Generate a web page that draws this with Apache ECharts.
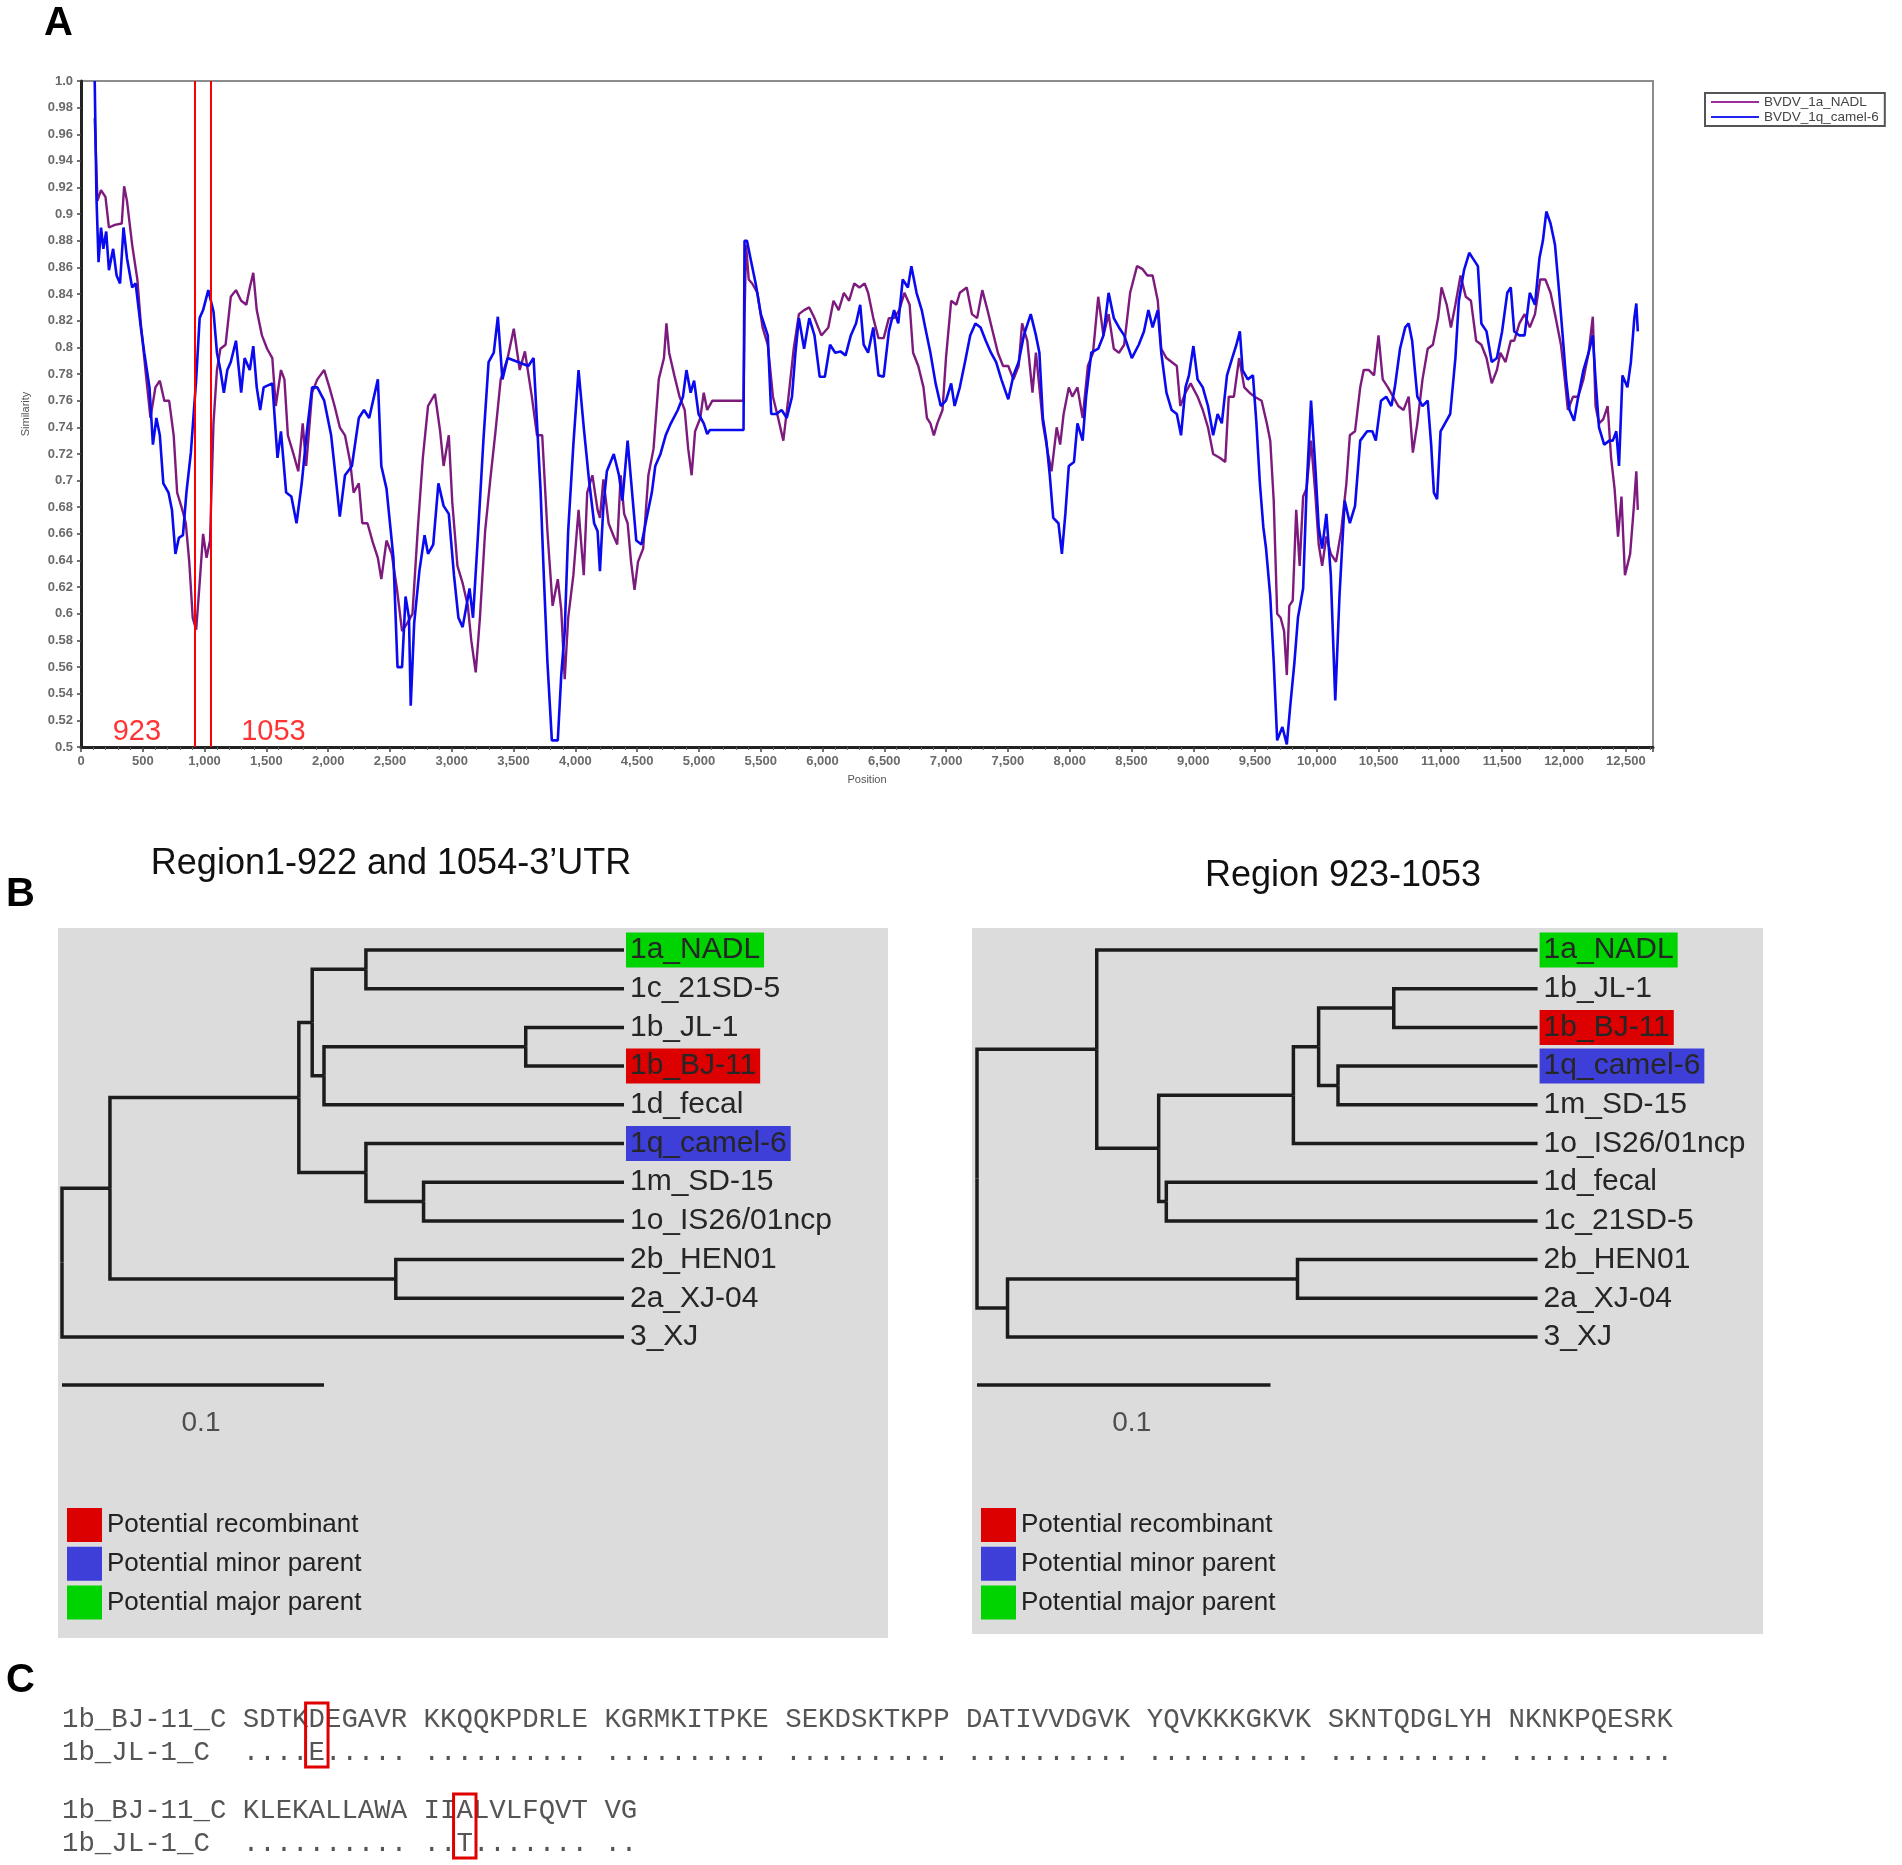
<!DOCTYPE html>
<html>
<head>
<meta charset="utf-8">
<script src="https://cdn.jsdelivr.net/npm/echarts@6/dist/echarts.min.js"></script>
<style>
html,body{margin:0;padding:0;background:#fff;}
#c{width:1902px;height:1865px;}
</style>
</head>
<body>
<div id="c"></div>
<script>
// ---------------- Panel A data: similarity plot ----------------
const seriesNames = ['BVDV_1a_NADL', 'BVDV_1q_camel-6'];
const breakpoints = [923, 1053];
const xTickStep = 500;
const yTickStep = 0.02;

const nadlSimilarity = [
[111,0.972],[133,0.910],[162,0.918],[198,0.913],[226,0.890],[274,0.892],[330,0.893],[349,0.921],[372,0.910],[414,0.877],[456,0.851],[484,0.818],[526,0.779],[562,0.747],[602,0.770],[638,0.775],[674,0.760],[713,0.760],[750,0.734],[778,0.691],[820,0.678],[848,0.668],[876,0.639],[904,0.597],[932,0.588],[960,0.623],[988,0.660],[1016,0.642],[1044,0.655],[1072,0.743],[1100,0.783],[1128,0.799],[1170,0.802],[1212,0.838],[1254,0.843],[1296,0.835],[1338,0.832],[1366,0.845],[1394,0.856],[1422,0.828],[1464,0.809],[1506,0.799],[1548,0.792],[1576,0.756],[1618,0.783],[1646,0.776],[1674,0.734],[1716,0.721],[1758,0.707],[1794,0.743],[1822,0.711],[1870,0.766],[1912,0.776],[1968,0.783],[2010,0.770],[2052,0.756],[2094,0.740],[2136,0.734],[2178,0.714],[2206,0.691],[2248,0.698],[2276,0.668],[2318,0.668],[2360,0.654],[2402,0.642],[2430,0.626],[2472,0.655],[2514,0.645],[2556,0.619],[2598,0.587],[2640,0.593],[2682,0.600],[2724,0.662],[2766,0.717],[2808,0.756],[2864,0.765],[2906,0.737],[2934,0.711],[2976,0.734],[3004,0.684],[3046,0.636],[3088,0.623],[3130,0.606],[3158,0.580],[3194,0.556],[3228,0.597],[3270,0.662],[3312,0.701],[3354,0.737],[3396,0.776],[3452,0.792],[3502,0.814],[3550,0.783],[3592,0.797],[3648,0.763],[3690,0.734],[3732,0.734],[3774,0.662],[3816,0.606],[3858,0.626],[3886,0.603],[3914,0.551],[3942,0.597],[3984,0.629],[4026,0.678],[4068,0.629],[4096,0.691],[4138,0.704],[4180,0.678],
[4199,0.672],[4227,0.701],[4269,0.668],[4311,0.658],[4339,0.652],[4367,0.704],[4395,0.675],[4423,0.668],[4451,0.639],[4479,0.618],[4507,0.639],[4549,0.649],[4591,0.704],[4633,0.724],[4675,0.776],[4717,0.792],[4737,0.818],[4759,0.796],[4801,0.779],[4843,0.763],[4885,0.753],[4913,0.724],[4941,0.704],[4969,0.737],[5011,0.747],[5039,0.766],[5067,0.753],[5109,0.760],[5361,0.760],[5369,0.822],[5381,0.877],[5403,0.851],[5431,0.848],[5473,0.841],[5515,0.815],[5557,0.802],[5599,0.763],[5641,0.747],[5683,0.730],[5725,0.763],[5767,0.799],[5809,0.825],[5851,0.828],[5893,0.830],[5935,0.822],[5991,0.809],[6047,0.815],[6089,0.835],[6131,0.828],[6173,0.841],[6215,0.835],[6257,0.848],[6299,0.845],[6341,0.848],[6369,0.841],[6411,0.822],[6453,0.807],[6495,0.807],[6537,0.822],[6579,0.822],[6621,0.828],[6663,0.841],[6705,0.832],[6733,0.796],[6775,0.786],[6817,0.770],[6845,0.747],[6873,0.743],[6901,0.734],[6929,0.743],[6971,0.753],[6999,0.792],[7041,0.835],[7083,0.832],[7111,0.841],[7167,0.845],[7209,0.825],[7251,0.822],[7293,0.843],[7335,0.828],[7377,0.812],[7419,0.796],[7461,0.786],[7503,0.786],[7545,0.776],[7587,0.786],[7615,0.818],[7657,0.805],[7699,0.766],[7727,0.796],[7755,0.770],[7783,0.743],[7825,0.720],[7853,0.707],[7895,0.740],[7923,0.727],[7951,0.750],[7993,0.770],[8021,0.763],[8063,0.770],[8105,0.747],[8147,0.786],[8189,0.796],[8231,0.838],[8273,0.809],[8315,0.825],[8357,0.799],[8399,0.796],[8441,0.802],
[8489,0.841],[8545,0.861],[8587,0.859],[8629,0.854],[8671,0.854],[8713,0.835],[8741,0.799],[8783,0.792],[8825,0.789],[8867,0.786],[8895,0.756],[8937,0.766],[8979,0.773],[9035,0.763],[9077,0.753],[9119,0.740],[9161,0.720],[9217,0.717],[9259,0.714],[9287,0.763],[9329,0.763],[9371,0.792],[9413,0.770],[9455,0.766],[9497,0.763],[9553,0.760],[9595,0.743],[9623,0.730],[9651,0.685],[9679,0.600],[9707,0.597],[9735,0.587],[9757,0.554],[9777,0.606],[9805,0.610],[9833,0.678],[9861,0.636],[9889,0.688],[9917,0.694],[9953,0.730],[9987,0.691],[10015,0.652],[10043,0.636],[10077,0.658],[10113,0.645],[10155,0.639],[10197,0.662],[10239,0.698],[10267,0.734],[10309,0.737],[10351,0.770],[10379,0.783],[10421,0.783],[10463,0.779],[10499,0.809],[10533,0.776],[10575,0.770],[10617,0.763],[10659,0.756],[10701,0.753],[10743,0.763],[10777,0.721],[10813,0.743],[10855,0.776],[10897,0.799],[10939,0.802],[10981,0.822],[11009,0.845],[11051,0.832],[11085,0.815],[11121,0.832],[11163,0.854],[11205,0.838],[11247,0.835],[11289,0.805],[11331,0.802],[11373,0.792],[11415,0.773],[11457,0.783],[11485,0.796],[11527,0.789],[11569,0.805],[11597,0.805],[11639,0.818],[11681,0.825],[11723,0.815],[11765,0.825],[11807,0.851],[11849,0.851],[11891,0.841],[11933,0.822],[11975,0.802],[12003,0.779],[12031,0.753],[12073,0.763],[12115,0.763],[12157,0.776],[12199,0.796],[12233,0.823],[12255,0.756],[12283,0.743],[12317,0.746],[12353,0.756],[12381,0.717],[12409,0.694],[12437,0.658],[12465,0.688],[12493,0.629],[12535,0.645],[12563,0.678],[12585,0.707],[12597,0.678]
];

const camelSimilarity = [
[111,1.0],[125,0.913],[142,0.864],[162,0.890],[181,0.874],[204,0.887],[226,0.858],[260,0.874],[288,0.854],[316,0.848],[344,0.890],[372,0.867],[414,0.845],[442,0.848],[484,0.815],[512,0.796],[554,0.770],[582,0.727],[610,0.747],[638,0.734],[666,0.698],[708,0.691],[736,0.678],[764,0.645],[792,0.657],[825,0.659],[853,0.691],[889,0.721],[932,0.776],[960,0.822],[988,0.828],[1030,0.843],[1072,0.827],[1100,0.796],[1128,0.783],[1156,0.766],[1184,0.783],[1212,0.789],[1254,0.805],[1296,0.766],[1324,0.792],[1366,0.783],[1394,0.801],[1422,0.770],[1450,0.753],[1478,0.770],[1548,0.773],[1590,0.717],[1618,0.737],[1660,0.691],[1702,0.688],[1744,0.668],[1786,0.698],[1828,0.737],[1870,0.770],[1912,0.770],[1968,0.760],[2024,0.734],[2066,0.698],[2094,0.673],[2136,0.704],[2192,0.711],[2248,0.747],[2290,0.753],[2332,0.747],[2402,0.776],[2430,0.711],[2472,0.694],[2500,0.668],[2528,0.642],[2561,0.560],[2598,0.560],[2626,0.613],[2654,0.597],[2668,0.531],[2696,0.593],[2738,0.632],[2780,0.659],[2808,0.645],[2850,0.652],[2892,0.698],[2934,0.681],[2976,0.675],[3018,0.629],[3054,0.597],[3088,0.590],[3144,0.619],[3172,0.597],[3214,0.662],[3256,0.730],[3298,0.789],[3340,0.796],[3373,0.823],[3410,0.776],[3452,0.792],[3536,0.789],[3620,0.786],[3662,0.792],[3690,0.743],[3718,0.694],[3746,0.626],[3774,0.564],[3810,0.505],[3858,0.505],[3886,0.554],[3914,0.587],[3942,0.662],[3984,0.727],[4026,0.783],[4068,0.740],[4110,0.701],[4152,0.668],[4180,0.662],
[4199,0.632],[4227,0.681],[4255,0.707],[4311,0.720],[4353,0.704],[4381,0.685],[4423,0.730],[4465,0.685],[4493,0.655],[4535,0.652],[4577,0.672],[4619,0.691],[4647,0.711],[4689,0.720],[4731,0.734],[4773,0.743],[4829,0.753],[4871,0.763],[4899,0.783],[4933,0.766],[4961,0.775],[4997,0.750],[5039,0.743],[5067,0.735],[5089,0.738],[5361,0.738],[5369,0.880],[5389,0.880],[5417,0.867],[5459,0.848],[5501,0.825],[5557,0.809],[5585,0.750],[5627,0.750],[5669,0.753],[5711,0.747],[5753,0.763],[5781,0.796],[5809,0.822],[5851,0.799],[5893,0.822],[5935,0.809],[5977,0.778],[6019,0.778],[6061,0.802],[6103,0.796],[6145,0.797],[6187,0.794],[6229,0.809],[6271,0.818],[6305,0.832],[6333,0.802],[6369,0.796],[6411,0.815],[6453,0.779],[6495,0.778],[6537,0.812],[6579,0.828],[6613,0.818],[6649,0.851],[6691,0.845],[6719,0.861],[6761,0.841],[6803,0.828],[6831,0.815],[6873,0.796],[6915,0.773],[6957,0.756],[6999,0.760],[7041,0.773],[7069,0.756],[7111,0.770],[7153,0.789],[7195,0.809],[7237,0.818],[7279,0.815],[7321,0.805],[7363,0.796],[7405,0.789],[7447,0.776],[7503,0.761],[7545,0.779],[7587,0.789],[7629,0.809],[7685,0.825],[7727,0.809],[7755,0.796],[7783,0.747],[7811,0.730],[7839,0.704],[7867,0.672],[7909,0.668],[7937,0.645],[7965,0.675],[7993,0.711],[8035,0.714],[8063,0.743],[8105,0.730],[8133,0.763],[8175,0.796],[8231,0.799],[8273,0.809],[8315,0.841],[8357,0.822],[8399,0.815],[8441,0.809],
[8503,0.792],[8559,0.802],[8601,0.812],[8637,0.828],[8671,0.815],[8713,0.828],[8741,0.796],[8783,0.766],[8825,0.753],[8867,0.750],[8901,0.734],[8937,0.770],[8965,0.779],[9001,0.801],[9035,0.776],[9077,0.770],[9119,0.756],[9161,0.734],[9197,0.750],[9231,0.743],[9273,0.779],[9315,0.792],[9349,0.802],[9377,0.812],[9399,0.783],[9441,0.776],[9483,0.779],[9511,0.743],[9539,0.698],[9567,0.665],[9589,0.649],[9623,0.613],[9651,0.564],[9679,0.505],[9721,0.515],[9757,0.502],[9785,0.531],[9819,0.564],[9847,0.597],[9889,0.619],[9917,0.694],[9953,0.760],[9987,0.711],[10015,0.665],[10043,0.649],[10077,0.675],[10113,0.629],[10149,0.535],[10183,0.613],[10225,0.685],[10267,0.668],[10309,0.681],[10351,0.730],[10407,0.737],[10449,0.737],[10477,0.730],[10519,0.760],[10561,0.763],[10603,0.756],[10631,0.770],[10673,0.799],[10715,0.815],[10743,0.818],[10771,0.805],[10813,0.763],[10855,0.756],[10897,0.760],[10925,0.727],[10947,0.691],[10973,0.686],[11001,0.737],[11037,0.743],[11079,0.750],[11121,0.792],[11149,0.835],[11191,0.858],[11233,0.871],[11261,0.867],[11303,0.861],[11331,0.818],[11373,0.812],[11415,0.789],[11457,0.792],[11499,0.812],[11541,0.841],[11569,0.845],[11597,0.812],[11639,0.809],[11681,0.809],[11723,0.841],[11765,0.832],[11801,0.867],[11829,0.880],[11857,0.902],[11891,0.893],[11927,0.877],[11961,0.841],[11989,0.809],[12017,0.776],[12045,0.753],[12081,0.745],[12115,0.763],[12157,0.783],[12199,0.796],[12233,0.809],[12255,0.776],[12283,0.740],[12325,0.727],[12367,0.730],[12395,0.730],[12423,0.737],[12445,0.711],[12473,0.779],[12513,0.770],[12541,0.789],[12569,0.822],[12585,0.833],[12597,0.812]
];

// ---------------- Panel B data: trees ----------------
const leftLeaves = ['1a_NADL','1c_21SD-5','1b_JL-1','1b_BJ-11','1d_fecal','1q_camel-6','1m_SD-15','1o_IS26/01ncp','2b_HEN01','2a_XJ-04','3_XJ'];
const leftClades = [ // [node, children, distance from root]
  ['AC', ['1a_NADL','1c_21SD-5'], 0.116],
  ['JB', ['1b_JL-1','1b_BJ-11'], 0.177],
  ['JBF', ['JB','1d_fecal'], 0.100],
  ['Na', ['AC','JBF'], 0.0955],
  ['MO', ['1m_SD-15','1o_IS26/01ncp'], 0.138],
  ['CG', ['1q_camel-6','MO'], 0.116],
  ['T1', ['Na','CG'], 0.0904],
  ['T2', ['2b_HEN01','2a_XJ-04'], 0.1274],
  ['N1', ['T1','T2'], 0.0183],
  ['root', ['N1','3_XJ'], 0]
];
const leftTipDepth = 0.2145;

const rightLeaves = ['1a_NADL','1b_JL-1','1b_BJ-11','1q_camel-6','1m_SD-15','1o_IS26/01ncp','1d_fecal','1c_21SD-5','2b_HEN01','2a_XJ-04','3_XJ'];
const rightClades = [
  ['JB', ['1b_JL-1','1b_BJ-11'], 0.142],
  ['CM', ['1q_camel-6','1m_SD-15'], 0.123],
  ['Y', ['JB','CM'], 0.1164],
  ['X', ['Y','1o_IS26/01ncp'], 0.1078],
  ['FC', ['1d_fecal','1c_21SD-5'], 0.0645],
  ['In', ['X','FC'], 0.0619],
  ['T1', ['1a_NADL','In'], 0.0408],
  ['T2', ['2b_HEN01','2a_XJ-04'], 0.1092],
  ['T23', ['T2','3_XJ'], 0.0104],
  ['root', ['T1','T23'], 0]
];
const rightTipDepth = 0.191;

const scaleBarLength = 0.1;
const roleNames = ['Potential recombinant', 'Potential minor parent', 'Potential major parent'];
const roleColors = ['#DD0000', '#3E3ED8', '#00D400'];
const roleOfStrain = { '1b_BJ-11': 0, '1q_camel-6': 1, '1a_NADL': 2 };

// ---------------- Panel C data: alignment ----------------
const seqNameA = '1b_BJ-11_C';
const seqNameB = '1b_JL-1_C';
const bj11Block1 = ['SDTKDEGAVR','KKQQKPDRLE','KGRMKITPKE','SEKDSKTKPP','DATIVVDGVK','YQVKKKGKVK','SKNTQDGLYH','NKNKPQESRK'];
const jl1Block1  = ['....E.....','..........','..........','..........','..........','..........','..........','..........'];
const bj11Block2 = ['KLEKALLAWA','IIALVLFQVT','VG'];
const jl1Block2  = ['..........','..T.......','..'];

// ---------------- build ----------------
function layoutTree(leaves, clades, tipDepth) {
  const pos = {};
  leaves.forEach((n, i) => { pos[n] = { x: tipDepth, y: i }; });
  clades.forEach(([id, kids, d]) => {
    pos[id] = { x: d, y: (pos[kids[0]].y + pos[kids[1]].y) / 2 };
  });
  const segs = [];
  clades.forEach(([id, kids, d]) => {
    kids.forEach(k => {
      segs.push({ coords: [[d, pos[id].y], [d, pos[k].y], [pos[k].x, pos[k].y]] });
    });
  });
  return segs;
}

const FONT = "'Liberation Sans', Arial, Helvetica, sans-serif";
const MONO = "'Courier New', 'Liberation Mono', monospace";
const scaleBarRow = 11.24;

function treeSeries(leaves, clades, tipDepth, gi) {
  const segs = layoutTree(leaves, clades, tipDepth);
  segs.push({ coords: [[0, scaleBarRow], [scaleBarLength, scaleBarRow]] });
  return [
    {
      type: 'lines', coordinateSystem: 'cartesian2d', xAxisIndex: gi, yAxisIndex: gi,
      polyline: true, silent: true, data: segs,
      lineStyle: { color: '#1c1c1c', width: 3.5, opacity: 1 }, z: 3
    },
    {
      type: 'scatter', xAxisIndex: gi, yAxisIndex: gi, symbolSize: 0, silent: true,
      itemStyle: { opacity: 1 },
      data: leaves.map((n, i) => ({
        value: [tipDepth, i], name: n,
        label: {
          backgroundColor: (n in roleOfStrain) ? roleColors[roleOfStrain[n]] : 'transparent'
        }
      })),
      label: {
        show: true, position: 'right', distance: 2, formatter: '{b}',
        fontFamily: FONT, fontSize: 30, color: '#262626', opacity: 1,
        padding: [3, 4, 2, 4], lineHeight: 30
      },
      z: 4
    },
    {
      type: 'scatter', xAxisIndex: gi, yAxisIndex: gi, symbolSize: 0, silent: true,
      data: [{ value: [scaleBarLength / 2, scaleBarRow] }],
      label: {
        show: true, position: 'bottom', distance: 24, offset: [8, 0],
        formatter: String(scaleBarLength), fontFamily: FONT, fontSize: 28, color: '#2a2a2a'
      }
    }
  ];
}

const fmtNum = v => Math.round(v).toLocaleString('en-US');
const fmtSim = v => Math.abs(v - 1) < 1e-6 ? '1.0' : String(Math.round(v * 100) / 100);

// Panel C text rows
const charW = 0.6 * 27.4;
const seqX = 62;
const prefixLen = 11;
const rowsC = [
  { y: 1720, text: seqNameA.padEnd(prefixLen) + bj11Block1.join(' ') },
  { y: 1753, text: seqNameB.padEnd(prefixLen) + jl1Block1.join(' ') },
  { y: 1811, text: seqNameA.padEnd(prefixLen) + bj11Block2.join(' ') },
  { y: 1844, text: seqNameB.padEnd(prefixLen) + jl1Block2.join(' ') }
];
const graphics = [];
const txt = (text, x, y, font, fill, align) => ({
  type: 'text', x: x, y: y, silent: true,
  style: { text: text, font: font, fill: fill, textAlign: align || 'left', align: align || 'left',
           textVerticalAlign: 'middle', verticalAlign: 'middle' }
});
graphics.push(txt('A', 44, 24, 'bold 40px ' + FONT, '#000'));
graphics.push(txt('B', 6, 895, 'bold 40px ' + FONT, '#000'));
graphics.push(txt('C', 6, 1681, 'bold 40px ' + FONT, '#000'));
graphics.push(txt('Region1-922 and 1054-3\u2019UTR', 391, 864, '36px ' + FONT, '#111', 'center'));
graphics.push(txt('Region 923-1053', 1343, 876, '36px ' + FONT, '#111', 'center'));
rowsC.forEach(r => graphics.push(txt(r.text, seqX, r.y, '27.4px ' + MONO, '#555')));
[[jl1Block1, 0, 1], [jl1Block2, 2, 3]].forEach(([blk, ra, rb]) => {
  const s = blk.join(' ');
  for (let i = 0; i < s.length; i++) {
    if (s[i] !== '.' && s[i] !== ' ') {
      const col = prefixLen + i;
      graphics.push({
        type: 'rect', silent: true,
        shape: { x: seqX + col * charW - 3, y: rowsC[ra].y - 17, width: charW + 6, height: rowsC[rb].y - rowsC[ra].y + 31 },
        style: { fill: 'none', stroke: '#E00000', lineWidth: 3 }
      });
    }
  }
});

const chart = echarts.init(document.getElementById('c'), null, { renderer: 'canvas', width: 1902, height: 1865 });

const option = {
  animation: false,
  backgroundColor: '#ffffff',
  textStyle: { fontFamily: FONT },
  graphic: graphics,
  legend: [
    {
      data: seriesNames, orient: 'vertical', left: 1705, top: 93,
      padding: [2, 6, 2, 6], itemGap: 1, itemWidth: 48, itemHeight: 2, icon: 'rect',
      borderColor: '#555', borderWidth: 2, selectedMode: false,
      textStyle: { fontSize: 13.5, color: '#444', lineHeight: 13, fontFamily: FONT }
    },
    {
      data: roleNames, orient: 'vertical', left: 67, top: 1508, padding: 0,
      itemGap: 4.7, itemWidth: 35, itemHeight: 34, icon: 'rect', selectedMode: false,
      textStyle: { fontSize: 26, color: '#222', fontFamily: FONT }
    },
    {
      data: roleNames, orient: 'vertical', left: 981, top: 1508, padding: 0,
      itemGap: 4.7, itemWidth: 35, itemHeight: 34, icon: 'rect', selectedMode: false,
      textStyle: { fontSize: 26, color: '#222', fontFamily: FONT }
    }
  ],
  grid: [
    { left: 81, top: 81, width: 1572, height: 666, show: true, borderColor: '#8c8c8c', borderWidth: 2, backgroundColor: '#fff' },
    { left: 58, top: 928, width: 830, height: 710, show: true, borderWidth: 0, backgroundColor: '#DCDCDC' },
    { left: 972, top: 928, width: 791, height: 706, show: true, borderWidth: 0, backgroundColor: '#DCDCDC' }
  ],
  xAxis: [
    {
      gridIndex: 0, type: 'value', min: 0, max: 12720, interval: xTickStep,
      name: 'Position', nameLocation: 'middle', nameGap: 27,
      nameTextStyle: { fontSize: 11, color: '#555' },
      axisLine: { show: true, onZero: false, lineStyle: { color: '#222', width: 3 } },
      axisTick: { show: true, length: 5, lineStyle: { color: '#444', width: 1.5 } },
      minorTick: { show: true, splitNumber: 5, length: 3, lineStyle: { color: '#666' } },
      axisLabel: { formatter: fmtNum, fontSize: 13, fontWeight: 'bold', color: '#6a6a6a', margin: 8, showMaxLabel: false },
      splitLine: { show: false }
    },
    { gridIndex: 1, type: 'value', min: -0.001527, max: 0.31527, show: false },
    { gridIndex: 2, type: 'value', min: -0.001704, max: 0.26780, show: false }
  ],
  yAxis: [
    {
      gridIndex: 0, type: 'value', min: 0.5, max: 1.0, interval: yTickStep,
      name: 'Similarity', nameLocation: 'middle', nameGap: 50, nameRotate: 90,
      nameTextStyle: { fontSize: 11, color: '#555' },
      axisLine: { show: true, onZero: false, lineStyle: { color: '#222', width: 3 } },
      axisTick: { show: true, length: 4, lineStyle: { color: '#444', width: 1.5 } },
      axisLabel: { formatter: fmtSim, fontSize: 13, fontWeight: 'bold', color: '#6a6a6a', margin: 8 },
      splitLine: { show: false }
    },
    { gridIndex: 1, type: 'value', inverse: true, min: -0.5685, max: 17.778, show: false },
    { gridIndex: 2, type: 'value', inverse: true, min: -0.5685, max: 17.674, show: false }
  ],
  series: [
    {
      name: seriesNames[0], type: 'line', xAxisIndex: 0, yAxisIndex: 0,
      data: nadlSimilarity, symbol: 'none', showSymbol: false,
      lineStyle: { color: '#7D1A7D', width: 2.4 }, itemStyle: { color: '#9A2E9A' }, z: 2,
      markLine: {
        silent: true, symbol: ['none', 'none'], label: { show: false },
        lineStyle: { color: '#FF0000', width: 2, type: 'solid' },
        data: breakpoints.map(b => ({ xAxis: b }))
      }
    },
    {
      name: seriesNames[1], type: 'line', xAxisIndex: 0, yAxisIndex: 0,
      data: camelSimilarity, symbol: 'none', showSymbol: false,
      lineStyle: { color: '#0A0AF0', width: 2.6 }, itemStyle: { color: '#2222F0' }, z: 3
    },
    {
      type: 'scatter', xAxisIndex: 0, yAxisIndex: 0, symbolSize: 0, silent: true,
      data: [
        { value: [breakpoints[0], 0.5], label: { position: 'left', distance: 34 } },
        { value: [breakpoints[1], 0.5], label: { position: 'right', distance: 30 } }
      ],
      label: {
        show: true, formatter: p => String(p.value[0]), offset: [0, -15],
        fontSize: 29, color: '#FF0000', fontFamily: FONT
      }
    },
    ...treeSeries(leftLeaves, leftClades, leftTipDepth, 1),
    ...treeSeries(rightLeaves, rightClades, rightTipDepth, 2),
    ...roleNames.map((n, i) => ({
      name: n, type: 'scatter', xAxisIndex: 1, yAxisIndex: 1, data: [],
      itemStyle: { color: roleColors[i], opacity: 1 }
    }))
  ]
};
chart.setOption(option);
</script>
</body>
</html>
